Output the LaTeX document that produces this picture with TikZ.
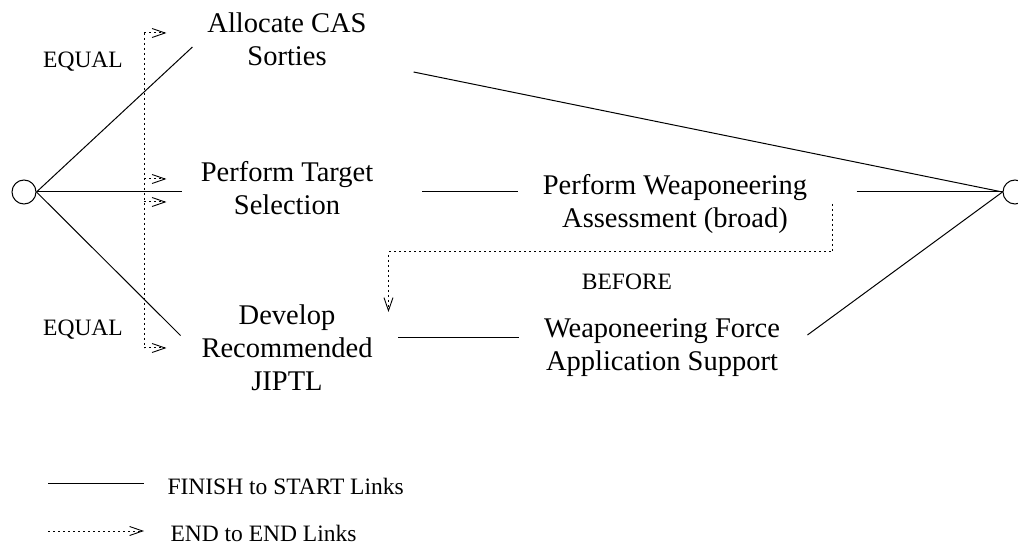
\documentclass[tikz,border=0pt]{standalone}
\usepackage{fontspec}
\setmainfont{Liberation Serif}
\usetikzlibrary{arrows.meta}

\begin{document}
\begin{tikzpicture}[x=1pt,y=-1pt, line width=1pt,
  task/.style={inner sep=0pt, align=center, font=\fontsize{28.5}{33}\selectfont},
  tag/.style={inner sep=0pt, font=\fontsize{23.5}{28}\selectfont},
  milestone/.style={circle, draw, minimum size=24pt, inner sep=0pt},
  endlink/.style={dash pattern=on 2pt off 3pt},
  barb/.style={-{Straight Barb[length=13pt,width=9pt,line width=0.9pt]}}]
\useasboundingbox (0,0) rectangle (1018,545);

% start and finish milestones
\node[milestone] (start) at (24,192) {};
\node[milestone] (finish) at (1015,192) {};

% tasks
\node[task] (alloc) at (287,39) {Allocate CAS\\Sorties};
\node[task] (target) at (287,188) {Perform Target\\Selection};
\node[task] (assess) at (675,204) {Perform Weaponeering\\Assessment (broad)};
\node[task] (jiptl) at (287,348) {Develop\\Recommended\\JIPTL};
\node[task] (force) at (662,348) {Weaponeering Force\\Application Support};

% finish to start links
\draw (start.east) -- ([xshift=-14.5pt,yshift=-8pt]alloc.west);
\draw [shorten >=18.5pt] (start.east) -- (target.west |- start);
\draw (start.east) -- ([xshift=-20.5pt,yshift=12.5pt]jiptl.west);
\draw [shorten <=48.5pt, shorten >=24pt] (target.east |- start) -- (assess.west |- start);
\draw [shorten <=25.5pt, shorten >=25pt] ([yshift=10pt]jiptl.east) -- ([yshift=10pt]jiptl.east -| force.west);
\draw ([xshift=46.5pt,yshift=-33pt]alloc.east) -- (finish.west);
\draw [shorten <=49pt] (assess.east |- start) -- (finish.west);
\draw ([xshift=27pt,yshift=13pt]force.east) -- (finish.west);

% end to end links
\coordinate (eqtop) at ([xshift=-62.5pt,yshift=6pt]alloc.west);
\coordinate (eqbot) at (eqtop |- jiptl.west);
\draw [endlink] (eqtop) -- (eqbot);
\draw [endlink,barb] (eqtop) -- ++(22,0);
\draw [endlink,barb] ([yshift=13pt]eqtop |- start) -- ++(22,0);
\draw [endlink,barb] ([yshift=-10pt]eqtop |- start) -- ++(22,0);
\draw [endlink,barb] (eqbot) -- ++(22,0);
\draw [endlink,barb] ([xshift=25pt]assess.east) -- ++(0,48) -| ([xshift=15.5pt,yshift=-7.5pt]jiptl.north east);

% link labels
\node[tag] (eq1) at (83,62) {EQUAL};
\node[tag] (eq2) at (83,330) {EQUAL};
\node[tag] (before) at (627,282) {BEFORE};

% legend
\coordinate (fs) at (48,483);
\coordinate (ee) at (48,531);
\node[tag, anchor=west] (fslabel) at (167,486) {FINISH to START Links};
\node[tag, anchor=west] (eelabel) at (170,533) {END to END Links};
\draw (fs) -- (fs -| 144,0);
\draw [endlink,barb] (ee) -- (ee -| 144,0);
\end{tikzpicture}
\end{document}
